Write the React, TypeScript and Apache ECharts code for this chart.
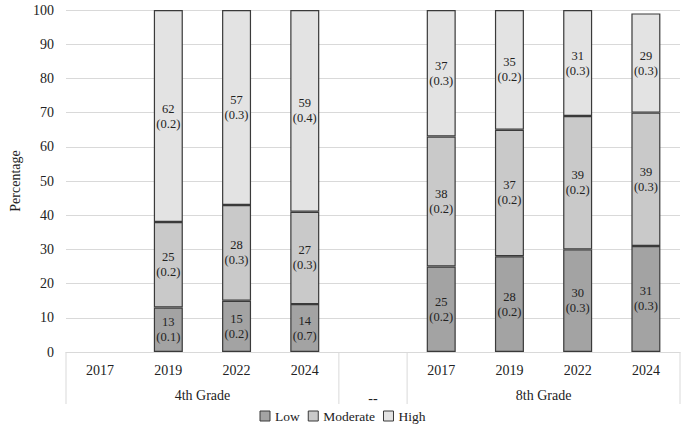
import React, { useEffect, useRef } from "react";
import * as echarts from "echarts";

const categories = ["4|2017", "4|2019", "4|2022", "4|2024", "sep", "8|2017", "8|2019", "8|2022", "8|2024"];
const yearLabels = ["2017", "2019", "2022", "2024", "", "2017", "2019", "2022", "2024"];
const groups = [
  { name: "4th Grade", from: 0, to: 3 },
  { name: "--", from: 4, to: 4 },
  { name: "8th Grade", from: 5, to: 8 },
];
const lowValues = [null, 13, 15, 14, null, 25, 28, 30, 31];
const lowSE = ["", "0.1", "0.2", "0.7", "", "0.2", "0.2", "0.3", "0.3"];
const moderateValues = [null, 25, 28, 27, null, 38, 37, 39, 39];
const moderateSE = ["", "0.2", "0.3", "0.3", "", "0.2", "0.2", "0.2", "0.3"];
const highValues = [null, 62, 57, 59, null, 37, 35, 31, 29];
const highSE = ["", "0.2", "0.3", "0.4", "", "0.3", "0.2", "0.3", "0.3"];
const yTicks = { min: 0, max: 100, interval: 10 };

const FONT = "Liberation Serif";

function makeSeries(name: string, values: (number | null)[], se: string[], color: string) {
  return {
    name,
    type: "bar",
    stack: "total",
    barWidth: 29,
    data: values.map((v) => (v === null ? "-" : v)),
    itemStyle: { color, borderColor: "#3a3a3a", borderWidth: 1.2 },
    label: {
      show: true,
      position: "inside",
      color: "#222",
      fontFamily: FONT,
      fontSize: 12.5,
      lineHeight: 15,
      formatter: (p: any) => `${p.value}\n(${se[p.dataIndex]})`,
    },
  };
}

export default function App() {
  const ref = useRef<HTMLDivElement>(null);
  useEffect(() => {
    document.body.style.margin = "0";
    const chart = echarts.init(ref.current!, null, { renderer: "svg" });
    chart.setOption({
      animation: false,
      textStyle: { fontFamily: FONT },
      grid: { left: 56, right: 5, top: 10, bottom: 81, containLabel: false },
      legend: {
        bottom: 5,
        left: "center",
        itemWidth: 10,
        itemHeight: 10,
        itemGap: 8,
        textStyle: { fontFamily: FONT, fontSize: 13.5, color: "#222" },
        data: ["Low", "Moderate", "High"].map((n) => ({
          name: n,
          icon: "rect",
          itemStyle: { borderColor: "#3a3a3a", borderWidth: 1 },
        })),
      },
      xAxis: {
        type: "category",
        data: categories,
        axisLine: { show: true, lineStyle: { color: "#d9d9d9", width: 1 } },
        axisTick: { show: false },
        axisLabel: {
          interval: 0,
          margin: 11,
          fontFamily: FONT,
          fontSize: 14,
          color: "#222",
          formatter: (_v: string, i: number) => yearLabels[i],
        },
      },
      yAxis: {
        type: "value",
        min: yTicks.min,
        max: yTicks.max,
        interval: yTicks.interval,
        name: "Percentage",
        nameLocation: "middle",
        nameGap: 44,
        nameTextStyle: { fontFamily: FONT, fontSize: 14, color: "#222" },
        axisLine: { show: false },
        axisTick: { show: false },
        axisLabel: { fontFamily: FONT, fontSize: 14, color: "#222", margin: 12 },
        splitLine: { lineStyle: { color: "#d9d9d9", width: 1 } },
      },
      series: [
        makeSeries("Low", lowValues, lowSE, "#a3a3a3"),
        makeSeries("Moderate", moderateValues, moderateSE, "#c9c9c9"),
        makeSeries("High", highValues, highSE, "#e3e3e3"),
      ],
    });

    const cx = (i: number) => chart.convertToPixel({ xAxisIndex: 0 }, categories[i]) as number;
    const step = cx(1) - cx(0);
    const y0 = chart.convertToPixel({ yAxisIndex: 0 }, 0) as number;
    const yBottom = y0 + 52;
    const boundaries = [0, 4, 5, 9].map((b) => cx(0) - step / 2 + b * step);
    const graphics: any[] = boundaries.map((x) => ({
      type: "line",
      shape: { x1: x, y1: y0, x2: x, y2: yBottom },
      style: { stroke: "#d9d9d9", lineWidth: 1 },
      silent: true,
    }));
    groups.forEach((g) => {
      const center = (cx(g.from) + cx(g.to)) / 2;
      graphics.push({
        type: "text",
        x: center,
        y: g.name === "--" ? y0 + 46 : y0 + 43,
        style: {
          text: g.name,
          fontFamily: FONT,
          fontSize: 14,
          fill: "#222",
          align: "center",
          verticalAlign: "middle",
        },
        silent: true,
      });
    });
    chart.setOption({ graphic: graphics });
    return () => chart.dispose();
  }, []);
  return <div ref={ref} style={{ width: 685, height: 433 }} />;
}
